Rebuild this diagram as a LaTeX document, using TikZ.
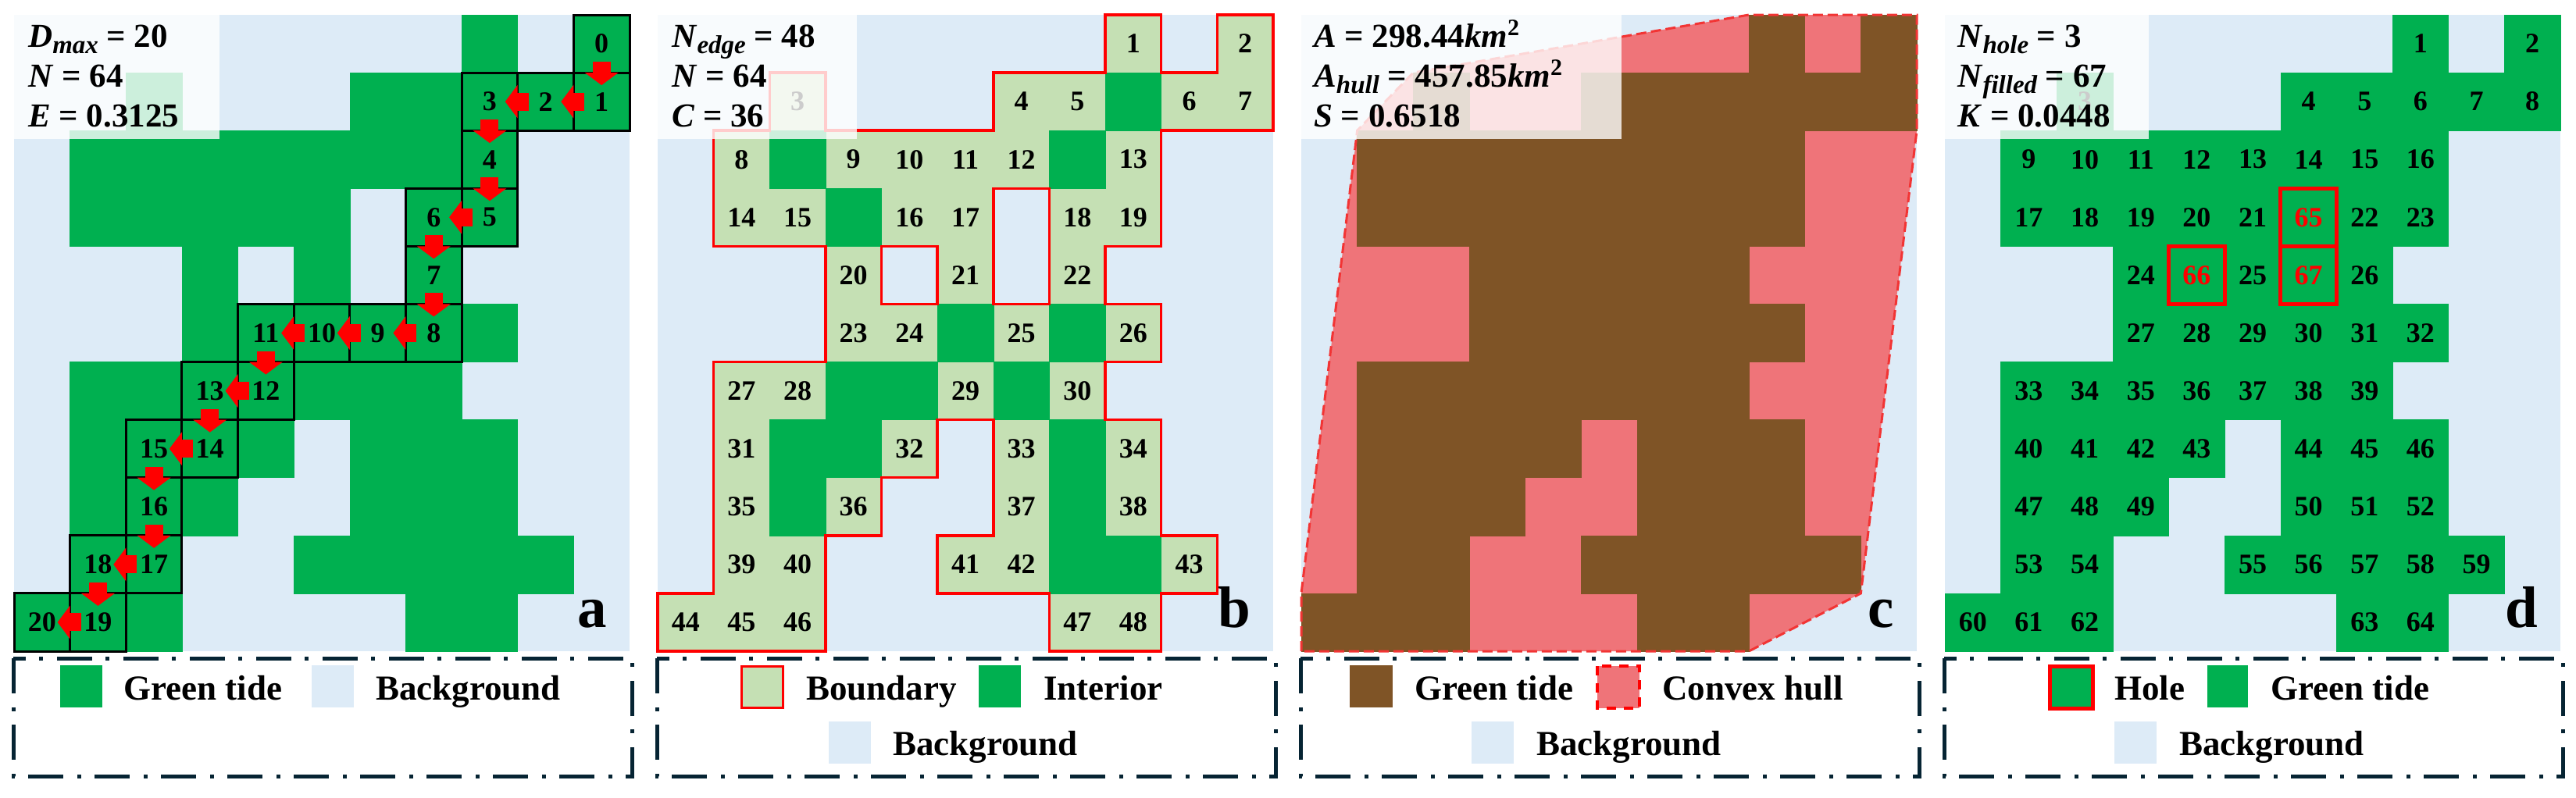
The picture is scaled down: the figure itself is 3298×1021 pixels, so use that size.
\documentclass[tikz,border=0pt]{standalone}
\usepackage{fontspec}
\setmainfont{Liberation Serif}
\usetikzlibrary{calc,arrows.meta}
\definecolor{gtide}{HTML}{00B050}
\definecolor{bgc}{HTML}{DDEBF7}
\definecolor{bnd}{HTML}{C5E0B4}
\definecolor{brn}{HTML}{7F5426}
\definecolor{hullc}{HTML}{EF7479}
\definecolor{hullline}{HTML}{F23434}
\definecolor{lgd}{HTML}{062433}
\newcommand{\mvar}[1]{\textbf{\textit{#1}}}
\newcommand{\msub}[1]{\raisebox{-8pt}{\fontsize{33}{33}\selectfont\bfseries\itshape #1}}
\newcommand{\msup}[1]{\raisebox{15pt}{\fontsize{30}{30}\selectfont\bfseries #1}}
\def\Glist{8/0,10/0,2/1,6/1,7/1,8/1,9/1,10/1,1/2,2/2,3/2,4/2,5/2,6/2,7/2,8/2,1/3,2/3,3/3,4/3,5/3,7/3,8/3,3/4,5/4,7/4,3/5,4/5,5/5,6/5,7/5,8/5,1/6,2/6,3/6,4/6,5/6,6/6,7/6,1/7,2/7,3/7,4/7,6/7,7/7,8/7,1/8,2/8,3/8,6/8,7/8,8/8,1/9,2/9,5/9,6/9,7/9,8/9,9/9,0/10,1/10,2/10,7/10,8/10}
\tikzset{
  gcell/.style={fill=gtide, draw=gtide, line width=0.6pt},
  bcell/.style={fill=bnd, draw=bnd, line width=0.6pt},
  brcell/.style={fill=brn, draw=brn, line width=0.6pt},
  bgpanel/.style={fill=bgc},
  pathcell/.style={draw=black, line width=3pt},
  num/.style={font=\fontsize{36}{40}\selectfont\bfseries, inner sep=0pt, text=black},
  rednum/.style={num, text=red},
  redline/.style={draw=red, line width=3.5pt, line join=miter},
  holebox/.style={draw=red, line width=5pt},
  hulldash/.style={draw=hullline, line width=3pt, dash pattern=on 13pt off 6pt},
  patharr/.style={draw=red, line width=23pt, -{Triangle[width=42pt,length=16pt]}},
  infobox/.style={fill=white, opacity=0.8},
  mathtxt/.style={font=\fontsize{43}{48}\selectfont\bfseries, anchor=base west, inner sep=0pt},
  legtxt/.style={font=\fontsize{45}{50}\selectfont\bfseries, anchor=base west, inner sep=0pt},
  legbox/.style={draw=lgd, line width=5pt, dash pattern=on 45pt off 18pt on 5pt off 17pt},
  plabel/.style={font=\fontsize{75}{80}\selectfont\bfseries, anchor=base east, inner sep=0pt},
}
\begin{document}
\begin{tikzpicture}[x=1pt,y=-1pt]
\useasboundingbox (0,0) rectangle (3298,1021);
\fill[white] (0,0) rectangle (3298,1021);

% ---------------- panel a ----------------
\begin{scope}[shift={(18,19)},x=71.636pt,y=-74.091pt]
  \fill[bgpanel] (0,0) rectangle (11,11);
  \foreach \c/\r in \Glist {\path[gcell] (\c,\r) rectangle ++(1,1);}
  \foreach \c/\r/\n in {10/0/0,10/1/1,9/1/2,8/1/3,8/2/4,8/3/5,7/3/6,7/4/7,7/5/8,6/5/9,5/5/10,4/5/11,4/6/12,3/6/13,3/7/14,2/7/15,2/8/16,2/9/17,1/9/18,1/10/19,0/10/20}
    {\draw[pathcell] (\c,\r) rectangle ++(1,1);}
  \foreach \c/\r/\n in {10/0/0,10/1/1,9/1/2,8/1/3,8/2/4,8/3/5,7/3/6,7/4/7,7/5/8,6/5/9,5/5/10,4/5/11,4/6/12,3/6/13,3/7/14,2/7/15,2/8/16,2/9/17,1/9/18,1/10/19,0/10/20}
    {\node[num] (a\n) at (\c+0.5,\r+0.5) {\n};}
  \foreach \i in {0,...,19} {
    \pgfmathtruncatemacro\j{\i+1}
    \path ($(a\i)!0.5!(a\j)$) coordinate (m\i);
    \draw[patharr] ($(m\i)!14pt!(a\i)$) -- ($(m\i)!16pt!(a\j)$);
  }
\end{scope}

% ---------------- panel b ----------------
\begin{scope}[shift={(842,19)},x=71.636pt,y=-74.091pt]
  \fill[bgpanel] (0,0) rectangle (11,11);
  \foreach \c/\r/\n in {8/0/1,10/0/2,2/1/3,6/1/4,7/1/5,9/1/6,10/1/7,1/2/8,3/2/9,4/2/10,5/2/11,6/2/12,8/2/13,1/3/14,2/3/15,4/3/16,5/3/17,7/3/18,8/3/19,3/4/20,5/4/21,7/4/22,3/5/23,4/5/24,6/5/25,8/5/26,1/6/27,2/6/28,5/6/29,7/6/30,1/7/31,4/7/32,6/7/33,8/7/34,1/8/35,3/8/36,6/8/37,8/8/38,1/9/39,2/9/40,5/9/41,6/9/42,9/9/43,0/10/44,1/10/45,2/10/46,7/10/47,8/10/48}
    {\path[bcell] (\c,\r) rectangle ++(1,1);}
  \foreach \c/\r in {8/1,2/2,7/2,3/3,5/5,7/5,3/6,4/6,6/6,2/7,3/7,7/7,2/8,7/8,7/9,8/9}
    {\path[gcell] (\c,\r) rectangle ++(1,1);}
  \draw[redline] (2,1) -- (3,1) -- (3,2) -- (6,2) -- (6,1) -- (8,1) -- (8,0) -- (9,0) -- (9,1) -- (10,1) -- (10,0) -- (11,0) -- (11,2) -- (9,2) -- (9,4) -- (8,4) -- (8,5) -- (9,5) -- (9,6) -- (8,6) -- (8,7) -- (9,7) -- (9,9) -- (10,9) -- (10,10) -- (9,10) -- (9,11) -- (7,11) -- (7,10) -- (5,10) -- (5,9) -- (6,9) -- (6,7) -- (5,7) -- (5,8) -- (4,8) -- (4,9) -- (3,9) -- (3,11) -- (0,11) -- (0,10) -- (1,10) -- (1,6) -- (3,6) -- (3,4) -- (1,4) -- (1,2) -- (2,2) -- cycle;
  \draw[redline] (4,4) rectangle (5,5);
  \draw[redline] (6,3) rectangle (7,5);
  \foreach \c/\r/\n in {8/0/1,10/0/2,2/1/3,6/1/4,7/1/5,9/1/6,10/1/7,1/2/8,3/2/9,4/2/10,5/2/11,6/2/12,8/2/13,1/3/14,2/3/15,4/3/16,5/3/17,7/3/18,8/3/19,3/4/20,5/4/21,7/4/22,3/5/23,4/5/24,6/5/25,8/5/26,1/6/27,2/6/28,5/6/29,7/6/30,1/7/31,4/7/32,6/7/33,8/7/34,1/8/35,3/8/36,6/8/37,8/8/38,1/9/39,2/9/40,5/9/41,6/9/42,9/9/43,0/10/44,1/10/45,2/10/46,7/10/47,8/10/48}
    {\node[num] (b\n) at (\c+0.5,\r+0.5) {\n};}
\end{scope}

% ---------------- panel c ----------------
\begin{scope}[shift={(1666,19)},x=71.636pt,y=-74.091pt]
  \fill[bgpanel] (0,0) rectangle (11,11);
  \fill[hullc] (0,11) -- (0,10) -- (1,2) -- (2,1) -- (8,0) -- (11,0) -- (11,2) -- (10,10) -- (8,11) -- cycle;
  \foreach \c/\r in {8/0,10/0,2/1,5/1,6/1,7/1,8/1,9/1,10/1,1/2,2/2,3/2,4/2,5/2,6/2,7/2,8/2,1/3,2/3,3/3,4/3,5/3,6/3,7/3,8/3,3/4,4/4,5/4,6/4,7/4,3/5,4/5,5/5,6/5,7/5,8/5,1/6,2/6,3/6,4/6,5/6,6/6,7/6,1/7,2/7,3/7,4/7,6/7,7/7,8/7,1/8,2/8,3/8,6/8,7/8,8/8,1/9,2/9,5/9,6/9,7/9,8/9,9/9,0/10,1/10,2/10,6/10,7/10}
    {\path[brcell] (\c,\r) rectangle ++(1,1);}
  \draw[hulldash] (0,11) -- (0,10) -- (1,2) -- (2,1) -- (8,0) -- (11,0) -- (11,2) -- (10,10) -- (8,11) -- cycle;
\end{scope}

% ---------------- panel d ----------------
\begin{scope}[shift={(2490,19)},x=71.636pt,y=-74.091pt]
  \fill[bgpanel] (0,0) rectangle (11,11);
  \foreach \c/\r in \Glist {\path[gcell] (\c,\r) rectangle ++(1,1);}
  \foreach \c/\r in {6/3,4/4,6/4} {\path[gcell] (\c,\r) rectangle ++(1,1);}
  \foreach \c/\r/\n in {8/0/1,10/0/2,2/1/3,6/1/4,7/1/5,8/1/6,9/1/7,10/1/8,1/2/9,2/2/10,3/2/11,4/2/12,5/2/13,6/2/14,7/2/15,8/2/16,1/3/17,2/3/18,3/3/19,4/3/20,5/3/21,7/3/22,8/3/23,3/4/24,5/4/25,7/4/26,3/5/27,4/5/28,5/5/29,6/5/30,7/5/31,8/5/32,1/6/33,2/6/34,3/6/35,4/6/36,5/6/37,6/6/38,7/6/39,1/7/40,2/7/41,3/7/42,4/7/43,6/7/44,7/7/45,8/7/46,1/8/47,2/8/48,3/8/49,6/8/50,7/8/51,8/8/52,1/9/53,2/9/54,5/9/55,6/9/56,7/9/57,8/9/58,9/9/59,0/10/60,1/10/61,2/10/62,7/10/63,8/10/64}
    {\node[num] (d\n) at (\c+0.5,\r+0.5) {\n};}
  \foreach \c/\r/\n in {6/3/65,4/4/66,6/4/67}
    {\draw[holebox] (\c,\r) rectangle ++(1,1);
     \node[rednum] (d\n) at (\c+0.5,\r+0.5) {\n};}
\end{scope}

% ---------------- info boxes ----------------
\fill[infobox] (18,19) rectangle (281,178);
\fill[infobox] (842,19) rectangle (1097,178);
\fill[infobox] (1666,19) rectangle (2076,178);
\fill[infobox] (2490,19) rectangle (2751,178);

\node[mathtxt] (ta1) at (36,60) {\mvar{D}\msub{max} = 20};
\node[mathtxt] (ta2) at (36,111) {\mvar{N} = 64};
\node[mathtxt] (ta3) at (36,162) {\mvar{E} = 0.3125};
\node[mathtxt] (tb1) at (860,60) {\mvar{N}\msub{edge} = 48};
\node[mathtxt] (tb2) at (860,111) {\mvar{N} = 64};
\node[mathtxt] (tb3) at (860,162) {\mvar{C} = 36};
\node[mathtxt] (tc1) at (1682,60) {\mvar{A} = 298.44\mvar{km}\msup{2}};
\node[mathtxt] (tc2) at (1682,111) {\mvar{A}\msub{hull} = 457.85\mvar{km}\msup{2}};
\node[mathtxt] (tc3) at (1682,162) {\mvar{S} = 0.6518};
\node[mathtxt] (td1) at (2506,60) {\mvar{N}\msub{hole} = 3};
\node[mathtxt] (td2) at (2506,111) {\mvar{N}\msub{filled} = 67};
\node[mathtxt] (td3) at (2506,162) {\mvar{K} = 0.0448};

% ---------------- panel letters ----------------
\node[plabel] (pa) at (777,803) {a};
\node[plabel] (pb) at (1601,803) {b};
\node[plabel] (pc) at (2425,803) {c};
\node[plabel] (pd) at (3249,803) {d};

% ---------------- legends ----------------
\draw[legbox] (17,843) rectangle (809,994);
\draw[legbox] (841,843) rectangle (1633,994);
\draw[legbox] (1665,843) rectangle (2457,994);
\draw[legbox] (2489,843) rectangle (3281,994);

% legend a
\fill[gtide] (77,852) rectangle (131,906);
\node[legtxt] (la1) at (158,896) {Green tide};
\fill[bgc] (399,852) rectangle (453,906);
\node[legtxt] (la2) at (481,896) {Background};
% legend b
\draw[fill=bnd, draw=red, line width=3pt] (949,853) rectangle (1002,906);
\node[legtxt] (lb1) at (1032,896) {Boundary};
\fill[gtide] (1253,852) rectangle (1307,906);
\node[legtxt] (lb2) at (1336,896) {Interior};
\fill[bgc] (1061,924) rectangle (1115,978);
\node[legtxt] (lb3) at (1143,967) {Background};
% legend c
\fill[brn] (1728,852) rectangle (1783,906);
\node[legtxt] (lc1) at (1811,896) {Green tide};
\draw[fill=hullc, draw=red, line width=4pt, dash pattern=on 12pt off 10pt] (2045,853) rectangle (2099,907);
\node[legtxt] (lc2) at (2128,896) {Convex hull};
\fill[bgc] (1884,924) rectangle (1938,978);
\node[legtxt] (lc3) at (1967,967) {Background};
% legend d
\draw[fill=gtide, draw=red, line width=5pt] (2624,853) rectangle (2679,907);
\node[legtxt] (ld1) at (2707,896) {Hole};
\fill[gtide] (2826,852) rectangle (2878,906);
\node[legtxt] (ld2) at (2907,896) {Green tide};
\fill[bgc] (2707,924) rectangle (2761,978);
\node[legtxt] (ld3) at (2790,967) {Background};
\end{tikzpicture}
\end{document}
